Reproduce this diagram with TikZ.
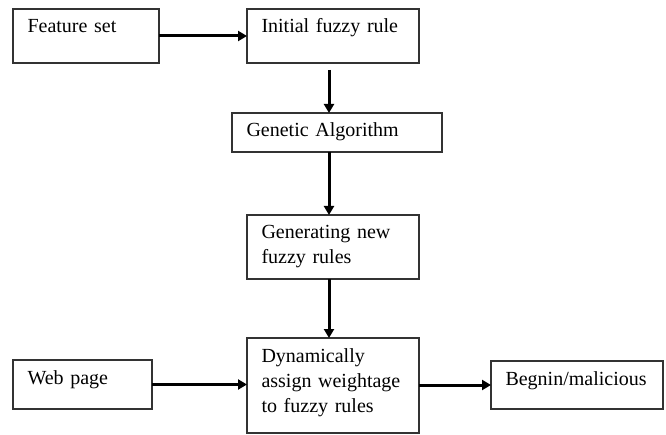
\documentclass[tikz,border=0pt]{standalone}
\usepackage{fontspec}
\setmainfont{Liberation Serif}
\usetikzlibrary{arrows.meta}
\tikzset{
  blk/.style={draw=black!80, line width=1.5pt, anchor=north west, align=left,
    inner xsep=14.5pt, inner ysep=0pt, outer sep=0pt, text height=24pt,
    font=\fontsize{20}{25}\selectfont},
  flow/.style={line width=3pt, -{Triangle[length=9pt,width=10pt]}}
}
\begin{document}
\begin{tikzpicture}[x=1pt,y=-1pt]
	\useasboundingbox (0,0) rectangle (666,435);
	% boxes
	\node[blk, text width=117pt, text depth=30pt] (feat) at (13,9) {Feature set};
	\node[blk, text width=143pt, text depth=30pt] (init) at (247,9) {Initial fuzzy rule};
	\node[blk, text width=181pt, text depth=15pt] (gen) at (232,113) {Genetic Algorithm};
	\node[blk, text width=143pt, text depth=40pt] (newrule) at (247,215) {Generating new\\fuzzy rules};
	\node[blk, text width=143pt, text depth=71pt] (dyn) at (247,338) {Dynamically\\assign weightage\\to fuzzy rules};
	\node[blk, text width=110pt, text depth=25pt] (web) at (13,360) {Web page};
	\node[blk, text width=143pt, text depth=24pt] (out) at (491,361) {Begnin/malicious};
	% arrows
	\draw[flow] (feat.east) -- (init.west);
	\draw[flow] ([xshift=-4pt,yshift=-7pt]init.south) -- ([xshift=-4pt]init.south |- gen.north);
	\draw[flow] ([xshift=-4pt]newrule.north |- gen.south) -- ([xshift=-4pt]newrule.north);
	\draw[flow] ([xshift=-4pt]newrule.south) -- ([xshift=-4pt]dyn.north);
	\draw[flow] (web.east) -- (web.east -| dyn.west);
	\draw[flow] (dyn.east |- out.west) -- (out.west);
\end{tikzpicture}
\end{document}
